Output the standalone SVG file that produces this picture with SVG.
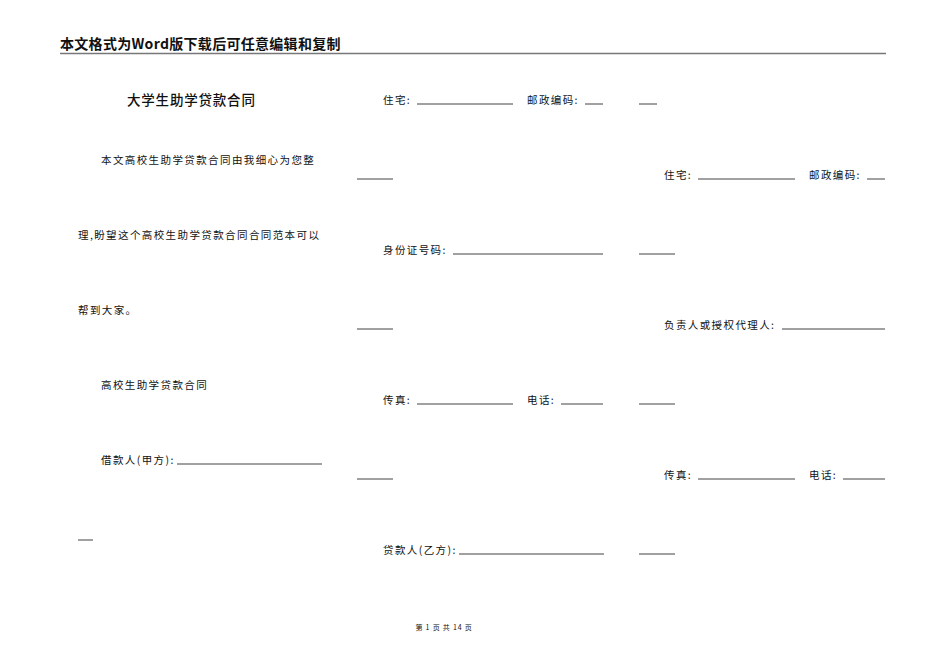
<svg xmlns="http://www.w3.org/2000/svg" width="950" height="672" viewBox="0 0 950 672">
<style>
text{font-family:"Noto Sans CJK SC","Noto Sans",sans-serif;fill:#111}
.b{font-size:10.5px;letter-spacing:1.4px}
.h{font-size:14px;font-weight:bold;letter-spacing:0.3px}
.t{font-size:13.5px;font-weight:500;letter-spacing:0.8px}
line{stroke:#111;stroke-width:0.8}
</style>
<rect width="950" height="672" fill="#fff"/>
<g id="header">
<text class="h" x="60" y="49">本文格式为Word版下载后可任意编辑和复制</text>
<line x1="60" y1="53.5" x2="886" y2="53.5" style="stroke:#777;stroke-width:1.5"/>
</g>
<g id="col1">
<text class="t" x="127" y="105">大学生助学贷款合同</text>
<text class="b" x="101" y="164">本文高校生助学贷款合同由我细心为您整</text>
<text class="b" x="78" y="239">理,盼望这个高校生助学贷款合同合同范本可以</text>
<text class="b" x="78" y="314">帮到大家。</text>
<text class="b" x="101" y="389">高校生助学贷款合同</text>
<text class="b" x="101" y="464">借款人(甲方):</text>
<line x1="177" y1="464" x2="322" y2="464"/>
<line x1="78" y1="540" x2="93" y2="540"/>
</g>
<g id="col2">
<text class="b" x="383" y="104">住宅:</text><line x1="417" y1="104" x2="513" y2="104"/>
<text class="b" x="527" y="104">邮政编码:</text><line x1="585" y1="104" x2="603" y2="104"/>
<line x1="639" y1="104" x2="657" y2="104"/>
<line x1="357" y1="179" x2="393" y2="179"/>
<text class="b" x="664" y="179">住宅:</text><line x1="698" y1="179" x2="795" y2="179"/>
<text class="b" x="809" y="179">邮政编码:</text><line x1="867" y1="179" x2="885" y2="179"/>
<text class="b" x="383" y="254">身份证号码:</text><line x1="453" y1="254" x2="603" y2="254"/>
<line x1="639" y1="254" x2="675" y2="254"/>
<line x1="357" y1="329" x2="393" y2="329"/>
<text class="b" x="664" y="329">负责人或授权代理人:</text><line x1="782" y1="329" x2="885" y2="329"/>
<text class="b" x="383" y="404">传真:</text><line x1="417" y1="404" x2="513" y2="404"/>
<text class="b" x="527" y="404">电话:</text><line x1="561" y1="404" x2="603" y2="404"/>
<line x1="639" y1="404" x2="675" y2="404"/>
<line x1="357" y1="479" x2="393" y2="479"/>
<text class="b" x="664" y="479">传真:</text><line x1="698" y1="479" x2="795" y2="479"/>
<text class="b" x="809" y="479">电话:</text><line x1="843" y1="479" x2="885" y2="479"/>
<text class="b" x="383" y="554">贷款人(乙方):</text><line x1="459" y1="554" x2="604" y2="554"/>
<line x1="639" y1="554" x2="675" y2="554"/>
</g>
<g id="footer">
<text x="444" y="630" style="font-size:7px;letter-spacing:0.8px" text-anchor="middle">第 1 页 共 14 页</text>
</g>
</svg>
